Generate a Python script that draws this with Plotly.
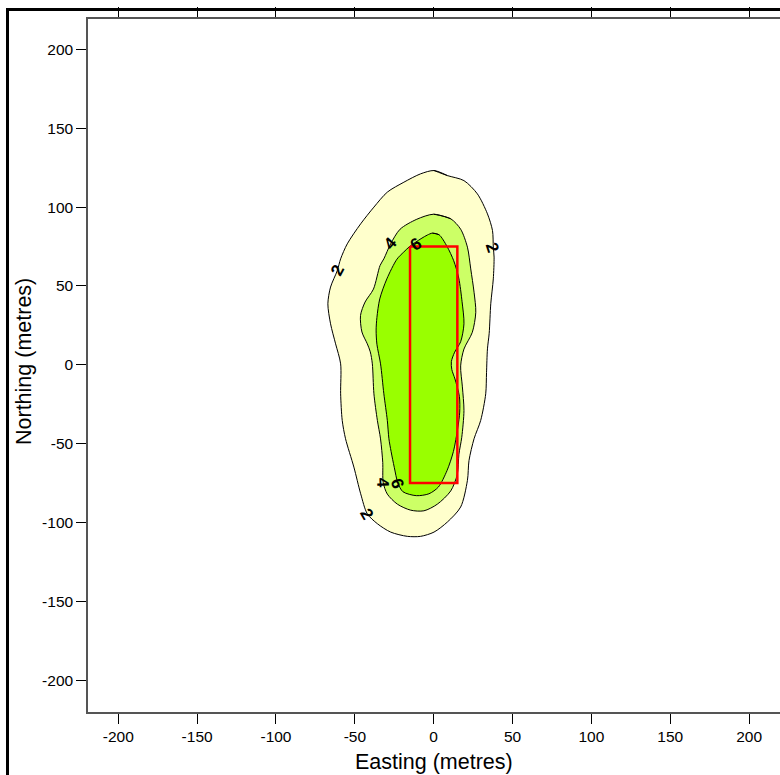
import plotly.graph_objects as go

# contour level 2 outline (Easting, Northing)
lev2_x = [0.2, 8.7, 19.2, 27.7, 34.1, 37.3, 37.8, 38.3, 37.8, 36.2, 35.2, 34.1, 33.5, 33.0, 29.8, 25.6, 22.4, 21.4, 17.1, 8.7,
          0.2, -8.3, -16.7, -27.3, -35.7, -42.1, -46.3, -50.6, -55.9, -58.0, -59.0, -59.0, -62.2, -65.4, -67.1, -65.4, -61.1,
          -59.0, -54.8, -46.3, -37.9, -29.4, -18.9, -8.3]
lev2_y = [123.2, 120.0, 116.8, 108.4, 95.7, 85.1, 74.6, 68.3, 54.5, 38.7, 20.0, 10.1, -5.0, -18.4, -35.3, -46.9, -60.7, -73.3,
          -90.2, -99.7, -106.1, -108.8, -108.8, -106.1, -100.8, -94.5, -81.8, -64.9, -46.9, -35.3, -18.4, 0.6, 13.3, 26.0,
          38.7, 49.3, 59.8, 67.2, 76.7, 89.4, 100.0, 109.5, 115.8, 121.1]

# contour level 4 outline
lev4_x = [0.0, 10.8, 17.1, 21.4, 23.5, 25.6, 26.7, 24.5, 19.2, 17.1, 18.2, 19.2, 17.8, 16.0, 15.0, 10.8, 2.3, -6.2, -14.6,
          -23.0, -29.4, -32.0, -32.3, -33.7, -35.7, -37.9, -38.9, -40.2, -42.1, -45.5, -46.4, -43.5, -38.2, -34.0, -31.6,
          -27.3, -21.3, -10.7]
lev4_y = [95.5, 92.6, 86.0, 74.6, 60.8, 46.0, 33.3, 20.6, 10.0, -0.7, -14.0, -29.0, -46.0, -56.7, -69.4, -80.0, -88.4, -92.6,
          -92.2, -88.4, -82.0, -74.7, -62.0, -47.0, -35.3, -18.4, 0.6, 8.2, 13.3, 20.8, 31.3, 39.8, 48.0, 63.0, 67.2, 76.7,
          86.0, 92.3]

# contour level 6 outline
lev6_x = [-0.8, 3.4, 8.5, 12.7, 15.9, 18.0, 19.2, 17.1, 13.3, 11.2, 11.5, 13.5, 16.3, 16.5, 15.3, 12.5, 8.5, 3.0, -3.0, -11.0,
          -19.5, -22.7, -25.0, -27.0, -28.4, -29.4, -31.6, -33.7, -36.0, -36.5, -36.0, -34.2, -29.7, -23.3, -19.0, -14.9,
          -8.0, -4.0]
lev6_y = [83.5, 82.5, 75.0, 66.0, 55.0, 40.0, 26.0, 14.6, 8.0, 2.0, -3.0, -9.0, -20.0, -30.0, -40.0, -55.0, -67.0, -77.5, -81.8,
          -83.0, -80.5, -75.0, -65.0, -55.0, -46.9, -35.3, -18.4, 0.6, 13.0, 22.0, 30.0, 41.8, 54.5, 67.0, 71.5, 75.3, 80.0,
          82.3]

# red rectangle (source)
rect_x = [-15, 15, 15, -15, -15]
rect_y = [75, 75, -75, -75, 75]

# contour labels
label_text = ["2", "2", "4", "6", "4", "6", "2"]
label_x = [-61.1, 37.3, -27.3, -11.5, -32.0, -23.0, -42.3]
label_y = [59.8, 74.6, 76.7, 76.5, -75.0, -75.0, -94.7]
label_ang = [-62, 72, -48, -35, 88, 72, 60]

tick_vals = [-200, -150, -100, -50, 0, 50, 100, 150, 200]
tick_text = ["-200", "-150", "-100", "-50", "0", "50", "100", "150", "200"]

fig = go.Figure()
fills = [(lev2_x, lev2_y, "#FFFFCC"), (lev4_x, lev4_y, "#CCFF66"), (lev6_x, lev6_y, "#99FF00")]
for xs, ys, col in fills:
    fig.add_trace(go.Scatter(x=xs + xs[:2], y=ys + ys[:2], mode="lines", fill="toself", fillcolor=col,
                             line=dict(color="black", width=1, shape="spline", smoothing=0.8),
                             hoverinfo="skip", showlegend=False))
fig.add_trace(go.Scatter(x=rect_x, y=rect_y, mode="lines", line=dict(color="#FF0000", width=2.5),
                         hoverinfo="skip", showlegend=False))

for t, x, y, a in zip(label_text, label_x, label_y, label_ang):
    fig.add_annotation(x=x, y=y, text="<b>%s</b>" % t, showarrow=False, textangle=a,
                       font=dict(family="Liberation Sans, Arial", size=17, color="black"))

fig.add_annotation(xref="paper", yref="paper", x=(433.5 - 88) / 692, y=(712 - 762) / 693, text="Easting (metres)",
                   showarrow=False, xanchor="center", yanchor="middle",
                   font=dict(family="Liberation Sans, Arial", size=21.5, color="black"))
fig.add_annotation(xref="paper", yref="paper", x=(24 - 88) / 692, y=(712 - 362) / 693, text="Northing (metres)",
                   showarrow=False, xanchor="center", yanchor="middle", textangle=-90,
                   font=dict(family="Liberation Sans, Arial", size=21.5, color="black"))

# outer frame
fig.add_shape(type="path", xref="paper", yref="paper",
              path="M %f %f L %f %f L %f %f" % ((7.5 - 88) / 692, -0.2, (7.5 - 88) / 692, 1 + (19 - 9.5) / 693,
                                                1.1, 1 + (19 - 9.5) / 693),
              line=dict(color="black", width=3))

axis_common = dict(showgrid=False, zeroline=False, ticks="outside", ticklen=10, tickwidth=1, tickcolor="black",
                   showline=True, linecolor="#555555", linewidth=1.5, mirror="ticks", automargin=False,
                   tickvals=tick_vals, ticktext=tick_text,
                   tickfont=dict(family="Liberation Sans, Arial", size=15.5, color="black"))
fig.update_xaxes(range=[-219.2, 219.6], **axis_common)
fig.update_yaxes(range=[-220.2, 219.3], **axis_common)

fig.update_layout(width=780, height=775, margin=dict(l=88, r=0, t=19, b=63, autoexpand=False),
                  plot_bgcolor="white", paper_bgcolor="white", showlegend=False)

fig.write_html("out.html")
